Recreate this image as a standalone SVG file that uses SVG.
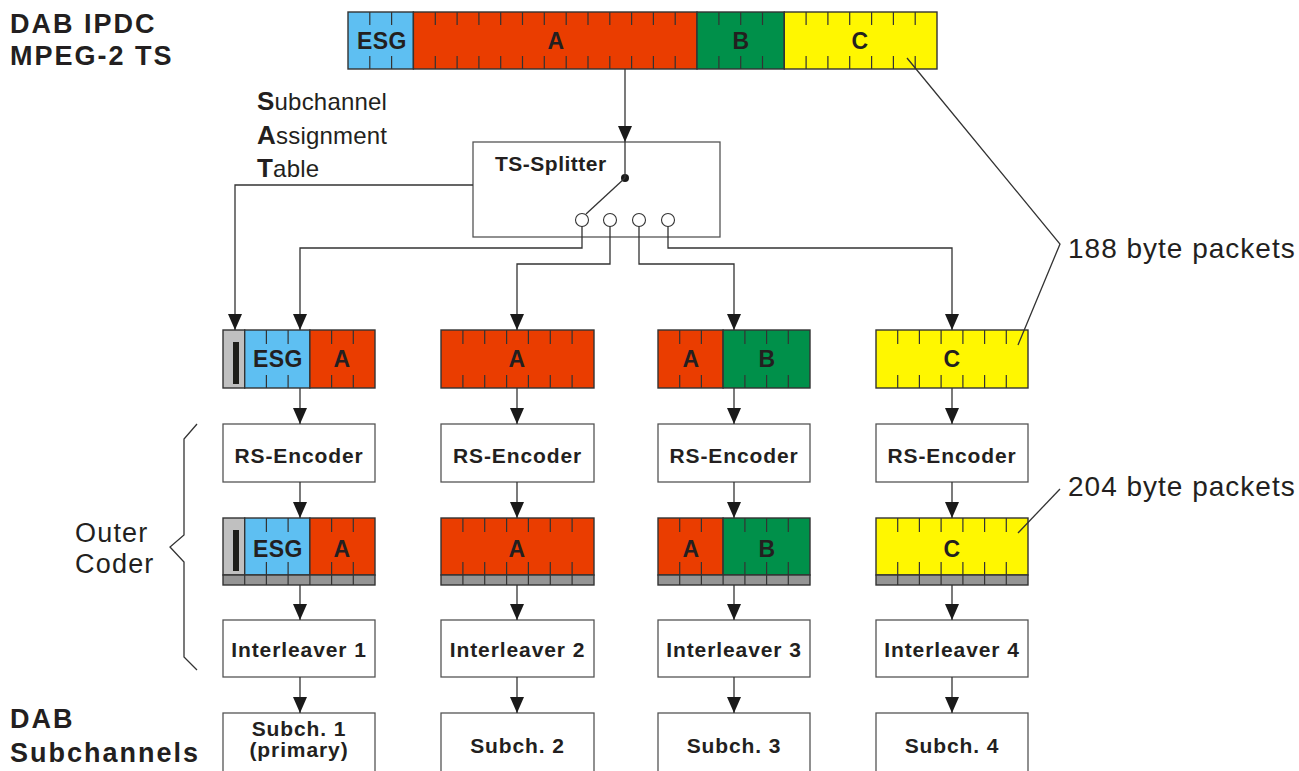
<svg xmlns="http://www.w3.org/2000/svg" width="1299" height="771" viewBox="0 0 1299 771">
<defs>
<marker id="ah" viewBox="0 0 16 14" refX="16" refY="7" markerWidth="16" markerHeight="14" markerUnits="userSpaceOnUse" orient="auto"><path d="M0,0 L16,7 L0,14 z" fill="#1a1a1a"/></marker>
<style>
.t{font-family:"Liberation Sans",Arial,sans-serif;fill:#231F20}
.bt{font-family:"Liberation Sans",Arial,sans-serif;fill:#231F20;font-weight:bold}
.lbl{font-family:"Liberation Sans",Arial,sans-serif;fill:#231F20;font-size:21px;font-weight:bold;text-anchor:middle;letter-spacing:0.9px}
.seglbl{font-family:"Liberation Sans",Arial,sans-serif;fill:#231F20;font-size:23px;font-weight:bold;text-anchor:middle;letter-spacing:0.4px}
.box{fill:#fff;stroke:#555;stroke-width:1.3}
.seg{stroke:#333;stroke-width:1.4}
.tick{stroke:#333;stroke-width:1.2;fill:none}
.conn{stroke:#333;stroke-width:1.3;fill:none}
.arr{stroke:#333;stroke-width:1.3;fill:none;marker-end:url(#ah)}
.blue{fill:#5EBFF2}.red{fill:#EA3D00}.green{fill:#00904A}.yellow{fill:#FFF700}.lgray{fill:#C0C0C0}.dgray{fill:#959595}
</style>
</defs>
<rect width="1299" height="771" fill="#fff"/>

<g id="titles">
<text class="bt" x="10" y="33" font-size="27" letter-spacing="2">DAB IPDC</text>
<text class="bt" x="10" y="65" font-size="27" letter-spacing="2">MPEG-2 TS</text>
<text class="bt" x="10" y="728" font-size="27" letter-spacing="2">DAB</text>
<text class="bt" x="10" y="762" font-size="27" letter-spacing="2">Subchannels</text>
</g>

<g id="sat-label">
<text class="t" x="257" y="110" font-size="24" letter-spacing="0.2"><tspan font-weight="bold" font-size="26">S</tspan>ubchannel</text>
<text class="t" x="257" y="144" font-size="24" letter-spacing="0.2"><tspan font-weight="bold" font-size="26">A</tspan>ssignment</text>
<text class="t" x="257" y="177" font-size="24" letter-spacing="0.2"><tspan font-weight="bold" font-size="26">T</tspan>able</text>
</g>

<g id="ts-stream">
<rect x="348" y="12" width="65.4" height="57" class="blue seg"/>
<rect x="413.4" y="12" width="283.6" height="57" class="red seg"/>
<rect x="697" y="12" width="87.3" height="57" class="green seg"/>
<rect x="784.3" y="12" width="152.7" height="57" class="yellow seg"/>
<path class="tick" d="M369.8,12V25M391.6,12V25M435.3,12V25M457.1,12V25M478.9,12V25M500.7,12V25M522.5,12V25M544.3,12V25M566.2,12V25M588,12V25M609.8,12V25M631.6,12V25M653.4,12V25M675.2,12V25M718.9,12V25M740.7,12V25M762.5,12V25M806.1,12V25M827.9,12V25M849.7,12V25M871.6,12V25M893.4,12V25M915.2,12V25
M369.8,56V69M391.6,56V69M435.3,56V69M457.1,56V69M478.9,56V69M500.7,56V69M522.5,56V69M544.3,56V69M566.2,56V69M588,56V69M609.8,56V69M631.6,56V69M653.4,56V69M675.2,56V69M718.9,56V69M740.7,56V69M762.5,56V69M806.1,56V69M827.9,56V69M849.7,56V69M871.6,56V69M893.4,56V69M915.2,56V69"/>
<text class="seglbl" x="382" y="49">ESG</text>
<text class="seglbl" x="556" y="49">A</text>
<text class="seglbl" x="741" y="49">B</text>
<text class="seglbl" x="860" y="49">C</text>
</g>

<g id="ts-splitter">
<rect x="473" y="142" width="247" height="95" class="box"/>
<text class="bt" x="495" y="171" font-size="21" letter-spacing="0.5">TS-Splitter</text>
<circle cx="625" cy="178" r="4" fill="#1a1a1a"/>
<g fill="#fff" stroke="#333" stroke-width="1.1">
<circle cx="582" cy="220" r="6.5"/>
<circle cx="610" cy="220" r="6.5"/>
<circle cx="639" cy="220" r="6.5"/>
<circle cx="668" cy="220" r="6.5"/>
</g>
</g>

<g id="packets-1-col1">
<rect x="223" y="330" width="21.7" height="58" class="lgray seg"/>
<rect x="244.7" y="330" width="65.2" height="58" class="blue seg"/>
<rect x="309.9" y="330" width="65.1" height="58" class="red seg"/>
<rect x="233" y="342" width="6" height="42" fill="#1e1e1a"/>
<path class="tick" d="M266.4,330V344M288.1,330V344M331.6,330V344M353.3,330V344M266.4,375V388M288.1,375V388M331.6,375V388M353.3,375V388"/>
<text class="seglbl" x="278" y="367">ESG</text>
<text class="seglbl" x="342" y="367">A</text>
</g>
<g id="packets-1-col2">
<rect x="441" y="330" width="153" height="58" class="red seg"/>
<path class="tick" d="M462.9,330V344M484.7,330V344M506.6,330V344M528.4,330V344M550.3,330V344M572.1,330V344M462.9,375V388M484.7,375V388M506.6,375V388M528.4,375V388M550.3,375V388M572.1,375V388"/>
<text class="seglbl" x="517" y="367">A</text>
</g>
<g id="packets-1-col3">
<rect x="658" y="330" width="65.1" height="58" class="red seg"/>
<rect x="723.1" y="330" width="86.9" height="58" class="green seg"/>
<path class="tick" d="M679.7,330V344M701.4,330V344M744.9,330V344M766.6,330V344M788.3,330V344M679.7,375V388M701.4,375V388M744.9,375V388M766.6,375V388M788.3,375V388"/>
<text class="seglbl" x="691" y="367">A</text>
<text class="seglbl" x="767" y="367">B</text>
</g>
<g id="packets-1-col4">
<rect x="876" y="330" width="152" height="58" class="yellow seg"/>
<path class="tick" d="M897.7,330V344M919.4,330V344M941.1,330V344M962.9,330V344M984.6,330V344M1006.3,330V344M897.7,375V388M919.4,375V388M941.1,375V388M962.9,375V388M984.6,375V388M1006.3,375V388"/>
<text class="seglbl" x="952" y="367">C</text>
</g>

<g id="rs-encoders">
<rect x="223" y="424" width="152" height="58" class="box"/>
<rect x="441" y="424" width="153" height="58" class="box"/>
<rect x="658" y="424" width="152" height="58" class="box"/>
<rect x="876" y="424" width="152" height="58" class="box"/>
<text class="lbl" x="299" y="463">RS-Encoder</text>
<text class="lbl" x="517.5" y="463">RS-Encoder</text>
<text class="lbl" x="734" y="463">RS-Encoder</text>
<text class="lbl" x="952" y="463">RS-Encoder</text>
</g>

<g id="packets-2-col1">
<rect x="223" y="518" width="21.7" height="57" class="lgray seg"/>
<rect x="244.7" y="518" width="65.2" height="57" class="blue seg"/>
<rect x="309.9" y="518" width="65.1" height="57" class="red seg"/>
<rect x="223" y="575" width="152" height="10" class="dgray seg"/>
<rect x="233" y="530" width="6" height="41" fill="#1e1e1a"/>
<path class="tick" d="M266.4,518V532M288.1,518V532M331.6,518V532M353.3,518V532M266.4,562V575M288.1,562V575M331.6,562V575M353.3,562V575M244.7,575V585M266.4,575V585M288.1,575V585M309.9,575V585M331.6,575V585M353.3,575V585"/>
<text class="seglbl" x="278" y="557">ESG</text>
<text class="seglbl" x="342" y="557">A</text>
</g>
<g id="packets-2-col2">
<rect x="441" y="518" width="153" height="57" class="red seg"/>
<rect x="441" y="575" width="153" height="10" class="dgray seg"/>
<path class="tick" d="M462.9,518V532M484.7,518V532M506.6,518V532M528.4,518V532M550.3,518V532M572.1,518V532M462.9,562V575M484.7,562V575M506.6,562V575M528.4,562V575M550.3,562V575M572.1,562V575M462.9,575V585M484.7,575V585M506.6,575V585M528.4,575V585M550.3,575V585M572.1,575V585"/>
<text class="seglbl" x="517" y="557">A</text>
</g>
<g id="packets-2-col3">
<rect x="658" y="518" width="65.1" height="57" class="red seg"/>
<rect x="723.1" y="518" width="86.9" height="57" class="green seg"/>
<rect x="658" y="575" width="152" height="10" class="dgray seg"/>
<path class="tick" d="M679.7,518V532M701.4,518V532M744.9,518V532M766.6,518V532M788.3,518V532M679.7,562V575M701.4,562V575M744.9,562V575M766.6,562V575M788.3,562V575M679.7,575V585M701.4,575V585M723.1,575V585M744.9,575V585M766.6,575V585M788.3,575V585"/>
<text class="seglbl" x="691" y="557">A</text>
<text class="seglbl" x="767" y="557">B</text>
</g>
<g id="packets-2-col4">
<rect x="876" y="518" width="152" height="57" class="yellow seg"/>
<rect x="876" y="575" width="152" height="10" class="dgray seg"/>
<path class="tick" d="M897.7,518V532M919.4,518V532M941.1,518V532M962.9,518V532M984.6,518V532M1006.3,518V532M897.7,562V575M919.4,562V575M941.1,562V575M962.9,562V575M984.6,562V575M1006.3,562V575M897.7,575V585M919.4,575V585M941.1,575V585M962.9,575V585M984.6,575V585M1006.3,575V585"/>
<text class="seglbl" x="952" y="557">C</text>
</g>

<g id="interleavers">
<rect x="223" y="620" width="152" height="57" class="box"/>
<rect x="441" y="620" width="153" height="57" class="box"/>
<rect x="658" y="620" width="152" height="57" class="box"/>
<rect x="876" y="620" width="152" height="57" class="box"/>
<text class="lbl" x="299" y="657">Interleaver 1</text>
<text class="lbl" x="517.5" y="657">Interleaver 2</text>
<text class="lbl" x="734" y="657">Interleaver 3</text>
<text class="lbl" x="952" y="657">Interleaver 4</text>
</g>

<g id="subchannels">
<rect x="223" y="713" width="152" height="70" class="box"/>
<rect x="441" y="713" width="153" height="70" class="box"/>
<rect x="658" y="713" width="152" height="70" class="box"/>
<rect x="876" y="713" width="152" height="70" class="box"/>
<text class="lbl" x="299" y="736">Subch. 1</text>
<text class="lbl" x="299" y="757">(primary)</text>
<text class="lbl" x="517.5" y="753">Subch. 2</text>
<text class="lbl" x="734" y="753">Subch. 3</text>
<text class="lbl" x="952" y="753">Subch. 4</text>
</g>

<g id="annotations">
<text class="t" x="1068" y="258" font-size="28" letter-spacing="1">188 byte packets</text>
<text class="t" x="1068" y="496" font-size="28" letter-spacing="1">204 byte packets</text>
<text class="t" x="75" y="542" font-size="27" letter-spacing="1.2">Outer</text>
<text class="t" x="75" y="573" font-size="27" letter-spacing="1.2">Coder</text>
</g>

<g id="connectors">
<path class="arr" d="M625,69V142"/>
<path class="conn" d="M625,142V178"/>
<path class="conn" stroke-width="1" d="M625,178L586,214"/>
<path class="arr" d="M582,226.5V248H300V330"/>
<path class="arr" d="M610,226.5V264H517V330"/>
<path class="arr" d="M639,226.5V264H734V330"/>
<path class="arr" d="M668,226.5V248H952V330"/>
<path class="arr" d="M473,185H235V330"/>
<path class="arr" d="M300,388V424"/><path class="arr" d="M517,388V424"/><path class="arr" d="M734,388V424"/><path class="arr" d="M952,388V424"/>
<path class="arr" d="M300,482V518"/><path class="arr" d="M517,482V518"/><path class="arr" d="M734,482V518"/><path class="arr" d="M952,482V518"/>
<path class="arr" d="M300,585V620"/><path class="arr" d="M517,585V620"/><path class="arr" d="M734,585V620"/><path class="arr" d="M952,585V620"/>
<path class="arr" d="M300,677V713"/><path class="arr" d="M517,677V713"/><path class="arr" d="M734,677V713"/><path class="arr" d="M952,677V713"/>
<path class="conn" stroke-width="1.1" d="M907,58L1060,244L1018,345"/>
<path class="conn" stroke-width="1.1" d="M1060,489L1018,533"/>
<path class="conn" stroke-width="1.1" d="M197,424L184,439V535L170,547L184,562V657L197,670"/>
</g>
</svg>
